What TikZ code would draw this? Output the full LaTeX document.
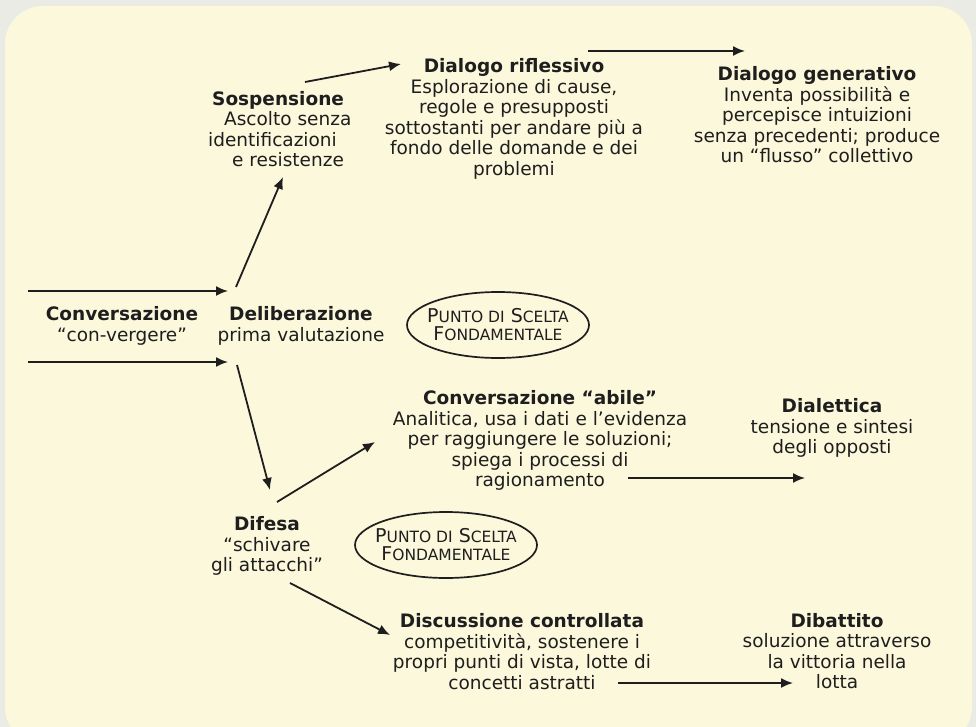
\documentclass[tikz,border=0pt]{standalone}
\usepackage{fontspec}
\setmainfont{DejaVu Sans}
\usetikzlibrary{arrows.meta,shapes.geometric,calc}
\definecolor{bgout}{HTML}{EBEBE5}
\definecolor{cream}{HTML}{FCF8DC}
\definecolor{ink}{HTML}{1E1E1E}
\newcommand\mysc{\fontsize{15.5}{18}\selectfont}
\tikzset{
  txt/.style={align=center, font=\fontsize{18.5}{20.5}\selectfont, text=ink, inner sep=0pt},
  arr/.style={-{Latex[length=12pt,width=10pt]}, line width=1.8pt, draw=ink},
  choice/.style={ellipse, draw=ink, line width=1.7pt, minimum width=182pt, minimum height=66pt, inner xsep=-24pt, inner ysep=-8pt, align=center, text=ink, font=\fontsize{19}{18}\selectfont}
}
\begin{document}
\begin{tikzpicture}[x=1pt,y=-1pt]
\useasboundingbox (0,0) rectangle (976,727);
\fill[bgout] (0,0) rectangle (976,727);
\fill[cream, rounded corners=38pt] (5,6) rectangle (972,745);

\node[txt, anchor=west, align=left] (sosp) at (208,129) {\hspace*{4pt}\textbf{Sospensione}\\\hspace*{16pt}Ascolto senza\\identificazioni\\\hspace*{24pt}e resistenze};
\node[txt] (drifl) at (514,119) {\textbf{Dialogo riflessivo}\\Esplorazione di cause,\\regole e presupposti\\sottostanti per andare più a\\fondo delle domande e dei\\problemi};
\node[txt] (dgen) at (817,115) {\textbf{Dialogo generativo}\\Inventa possibilità e\\percepisce intuizioni\\senza precedenti; produce\\un “flusso” collettivo};
\node[txt] (conv) at (122,326) {\textbf{Conversazione}\\“con-vergere”};
\node[txt] (delib) at (301,326) {\textbf{Deliberazione}\\prima valutazione};
\node[choice] (ch1) at (498,325) {P{\mysc UNTO DI} S{\mysc CELTA}\\F{\mysc ONDAMENTALE}};
\node[txt] (abile) at (540,440.5) {\textbf{Conversazione “abile”}\\Analitica, usa i dati e l’evidenza\\per raggiungere le soluzioni;\\spiega i processi di\\ragionamento};
\node[txt] (dial) at (832,428) {\textbf{Dialettica}\\tensione e sintesi\\degli opposti};
\node[txt] (dif) at (267,546) {\textbf{Difesa}\\“schivare\\gli attacchi”};
\node[choice] (ch2) at (446,545) {P{\mysc UNTO DI} S{\mysc CELTA}\\F{\mysc ONDAMENTALE}};
\node[txt] (disc) at (522,651.5) {\textbf{Discussione controllata}\\competitività, sostenere i\\propri punti di vista, lotte di\\concetti astratti};
\node[txt] (dib) at (837,651) {\textbf{Dibattito}\\soluzione attraverso\\la vittoria nella\\lotta};

\coordinate (in1) at (28,291);
\coordinate (in2) at (28,362);

\draw[arr] (in1) -- ($(delib.center)+(-73,-35)$);
\draw[arr] (in2) -- ($(delib.center)+(-73,36)$);
\draw[arr] ($(delib.center)+(-65,-39)$) -- ($(sosp.west)+(75,48)$);
\draw[arr] ($(sosp.west)+(97,-47)$) -- ($(drifl.center)+(-113,-55)$);
\draw[arr] ($(drifl.center)+(74,-68)$) -- ($(dgen.center)+(-72,-64)$);
\draw[arr] ($(delib.center)+(-64,39)$) -- ($(dif.center)+(3,-56)$);
\draw[arr] ($(dif.center)+(10,-44)$) -- ($(abile.center)+(-165,1.5)$);
\draw[arr] ($(abile.center)+(88,37.5)$) -- ($(dial.center)+(-27,50)$);
\draw[arr] ($(dif.center)+(23,37)$) -- ($(disc.center)+(-132,-16.5)$);
\draw[arr] ($(disc.center)+(96,31.5)$) -- ($(dib.center)+(-44,32)$);
\end{tikzpicture}
\end{document}
